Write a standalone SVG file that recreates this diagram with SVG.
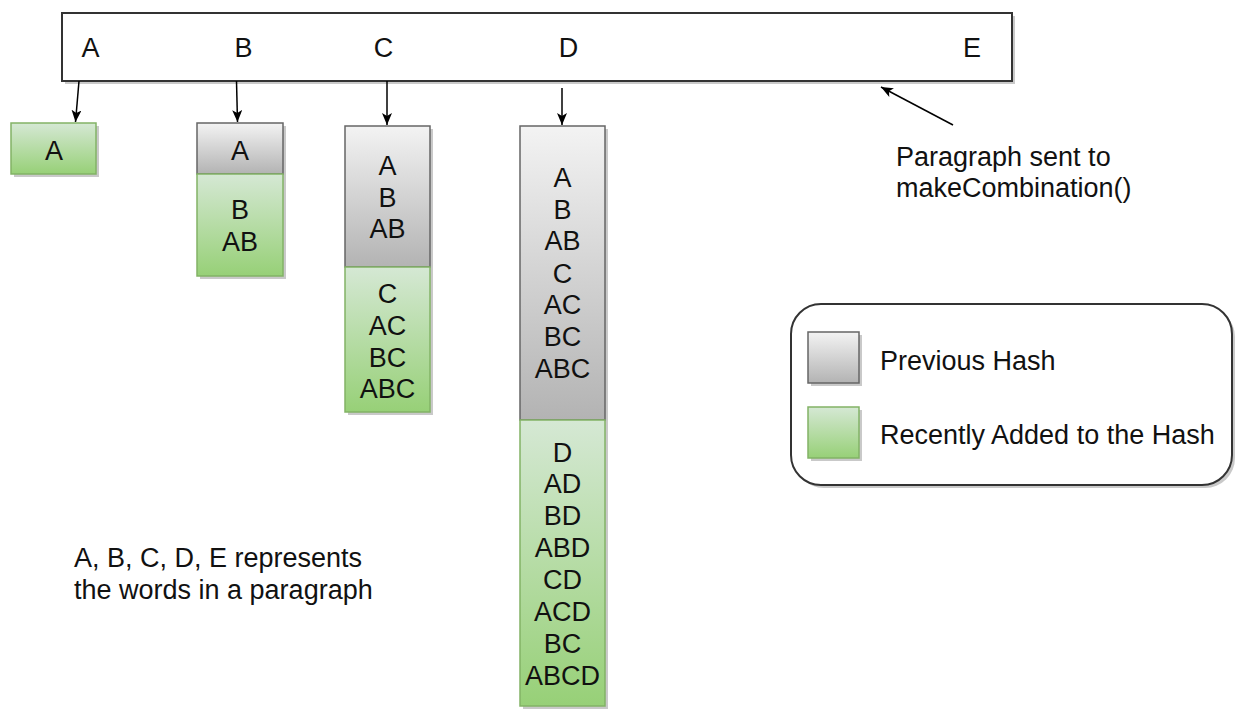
<svg xmlns="http://www.w3.org/2000/svg" width="1239" height="709" viewBox="0 0 1239 709">
<defs>
<linearGradient id="gGray" x1="0" y1="0" x2="0" y2="1"><stop offset="0" stop-color="#f3f3f3"/><stop offset="1" stop-color="#b3b3b3"/></linearGradient>
<linearGradient id="gGreen" x1="0" y1="0" x2="0" y2="1"><stop offset="0" stop-color="#d5e8d4"/><stop offset="1" stop-color="#97d077"/></linearGradient>
<marker id="arr" markerUnits="userSpaceOnUse" viewBox="0 0 12 10" markerWidth="12" markerHeight="10" refX="12" refY="5" orient="auto"><path d="M0,0 L12,5 L0,10 L3,5 Z" fill="#000"/></marker>
</defs>
<style>
text{font-family:"Liberation Sans",Arial,sans-serif;font-size:27px;fill:#111}
.c{text-anchor:middle}
.gray{fill:url(#gGray);stroke:#666;stroke-width:1.5}
.green{fill:url(#gGreen);stroke:#82b366;stroke-width:1.5}
.sh{fill:#c9c9c9}
.edge{stroke:#000;stroke-width:1.5;fill:none;marker-end:url(#arr)}
</style>
<rect width="1239" height="709" fill="#fff"/>
<g id="paragraph">
<rect class="sh" x="65" y="16" width="950" height="68"/>
<rect x="62" y="13" width="950" height="68" fill="#fff" stroke="#333" stroke-width="2"/>
<text class="c" x="90.5" y="57">A</text>
<text class="c" x="243.5" y="57">B</text>
<text class="c" x="383.5" y="57">C</text>
<text class="c" x="568.5" y="57">D</text>
<text class="c" x="972" y="57">E</text>
</g>
<g id="hashA">
<rect class="sh" x="14" y="126" width="85" height="51"/>
<rect class="green" x="11" y="123" width="85" height="51"/>
<text class="c" x="54" y="160">A</text>
</g>
<g id="hashB">
<rect class="sh" x="200" y="126" width="86" height="153"/>
<rect class="gray" x="197" y="123" width="86" height="51"/>
<rect class="green" x="197" y="174" width="86" height="102"/>
<text class="c" x="240" y="160">A</text>
<text class="c" x="240" y="219">B</text>
<text class="c" x="240" y="251">AB</text>
</g>
<g id="hashC">
<rect class="sh" x="348" y="129" width="85" height="286"/>
<rect class="gray" x="345" y="126" width="85" height="141"/>
<rect class="green" x="345" y="267" width="85" height="145"/>
<text class="c" x="387.5" y="175">A</text>
<text class="c" x="387.5" y="207">B</text>
<text class="c" x="387.5" y="238">AB</text>
<text class="c" x="387.5" y="303">C</text>
<text class="c" x="387.5" y="335">AC</text>
<text class="c" x="387.5" y="367">BC</text>
<text class="c" x="387.5" y="398">ABC</text>
</g>
<g id="hashD">
<rect class="sh" x="523" y="129" width="85" height="580"/>
<rect class="gray" x="520" y="126" width="85" height="294"/>
<rect class="green" x="520" y="420" width="85" height="286"/>
<text class="c" x="562.5" y="187">A</text>
<text class="c" x="562.5" y="219">B</text>
<text class="c" x="562.5" y="250">AB</text>
<text class="c" x="562.5" y="283">C</text>
<text class="c" x="562.5" y="314">AC</text>
<text class="c" x="562.5" y="346">BC</text>
<text class="c" x="562.5" y="378">ABC</text>
<text class="c" x="562.5" y="462">D</text>
<text class="c" x="562.5" y="493">AD</text>
<text class="c" x="562.5" y="525">BD</text>
<text class="c" x="562.5" y="557">ABD</text>
<text class="c" x="562.5" y="589">CD</text>
<text class="c" x="562.5" y="621">ACD</text>
<text class="c" x="562.5" y="653">BC</text>
<text class="c" x="562.5" y="685">ABCD</text>
</g>
<g id="connectors">
<line class="edge" x1="79" y1="81" x2="75.5" y2="122"/>
<line class="edge" x1="236.5" y1="81" x2="237.5" y2="122"/>
<line class="edge" x1="387" y1="81" x2="387" y2="125"/>
<line class="edge" x1="562" y1="88" x2="562" y2="125"/>
<line class="edge" x1="953" y1="125" x2="881" y2="87"/>
</g>
<g id="callout">
<text x="896" y="166">Paragraph sent to</text>
<text x="896" y="197">makeCombination()</text>
</g>
<g id="legend">
<rect x="794" y="307" width="441" height="181" rx="30" fill="#c9c9c9"/>
<rect x="791" y="304" width="441" height="181" rx="30" fill="#fff" stroke="#333" stroke-width="2"/>
<rect class="sh" x="811" y="335" width="51" height="51"/>
<rect class="gray" x="808" y="332" width="51" height="51"/>
<rect class="sh" x="811" y="410" width="51" height="51"/>
<rect class="green" x="808" y="407" width="51" height="51"/>
<text x="880" y="370">Previous Hash</text>
<text x="880" y="444">Recently Added to the Hash</text>
</g>
<g id="note">
<text x="74" y="567">A, B, C, D, E represents</text>
<text x="74" y="599">the words in a paragraph</text>
</g>
</svg>
